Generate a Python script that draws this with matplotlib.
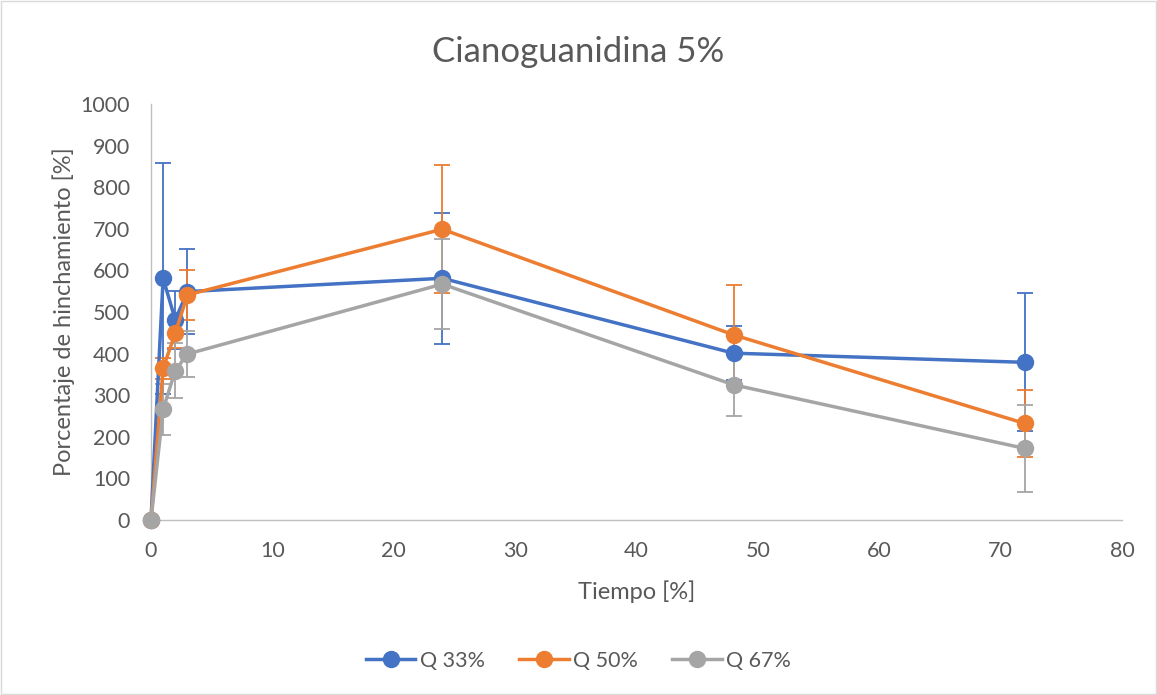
import matplotlib
matplotlib.use("Agg")
import matplotlib.pyplot as plt
from matplotlib.lines import Line2D

plt.rcParams['font.family'] = ['Lato', 'DejaVu Sans']

tiempo = [0, 1, 2, 3, 24, 48, 72]
q33 = [0, 581, 481, 549, 581, 401, 379]
q33_err = [0, 278, 69, 102, 158, 65, 166]
q50 = [0, 365, 449, 541, 699, 445, 232]
q50_err = [0, 25, 35, 60, 154, 120, 81]
q67 = [0, 266, 359, 399, 567, 325, 172]
q67_err = [0, 62, 66, 56, 108, 75, 105]

series = [("Q 33%", q33, q33_err, "#4472C4"),
          ("Q 50%", q50, q50_err, "#ED7D31"),
          ("Q 67%", q67, q67_err, "#A5A5A5")]

fig = plt.figure(figsize=(11.57, 6.95), dpi=100)
fig.patches.append(plt.Rectangle((0.001, 0.001), 0.998, 0.998, transform=fig.transFigure,
                                 fill=False, edgecolor="#D9D9D9", linewidth=1))
ax = fig.add_axes([0.1305, 0.2518, 0.8392, 0.5986])

handles = []
for name, vals, err, col in series:
    ax.errorbar(tiempo, vals, yerr=err, color=col, linewidth=2.5, marker='o',
                markersize=11.5, ecolor=col, elinewidth=1.3, capsize=6, capthick=1.3,
                zorder=3, clip_on=False)
    handles.append(Line2D([], [], color=col, linewidth=2.5, marker='o', markersize=11.5, label=name))

ax.set_xlim(0, 80)
ax.set_ylim(0, 1000)
ax.set_xticks(range(0, 81, 10))
ax.set_yticks(range(0, 1001, 100))
for s in ['top', 'right']:
    ax.spines[s].set_visible(False)
for s in ['left', 'bottom']:
    ax.spines[s].set_color('#BFBFBF')
    ax.spines[s].set_linewidth(1)
ax.tick_params(axis='both', colors='#595959', labelsize=15.5, length=0)
ax.tick_params(axis='y', pad=15)
ax.tick_params(axis='x', pad=15)
for lab in ax.get_xticklabels() + ax.get_yticklabels():
    lab.set_color('#595959')
for c in ax.get_children():
    try:
        c.set_clip_on(False)
    except Exception:
        pass

ax.set_xlabel("Tiempo [%]", fontsize=17, color='#595959', labelpad=14)
ax.set_ylabel("Porcentaje de hinchamiento [%]", fontsize=17, color='#595959', labelpad=4)
fig.text(0.5, 0.925, "Cianoguanidina 5%", ha='center', va='center', fontsize=25, color='#595959')

leg = fig.legend(handles=handles, loc='center', bbox_to_anchor=(0.5, 0.049), ncol=3, frameon=False,
                 fontsize=15.5, handlelength=2.3, columnspacing=1.6, handletextpad=0.2,
                 labelcolor='#595959')

fig.savefig("out.png", dpi=100)
